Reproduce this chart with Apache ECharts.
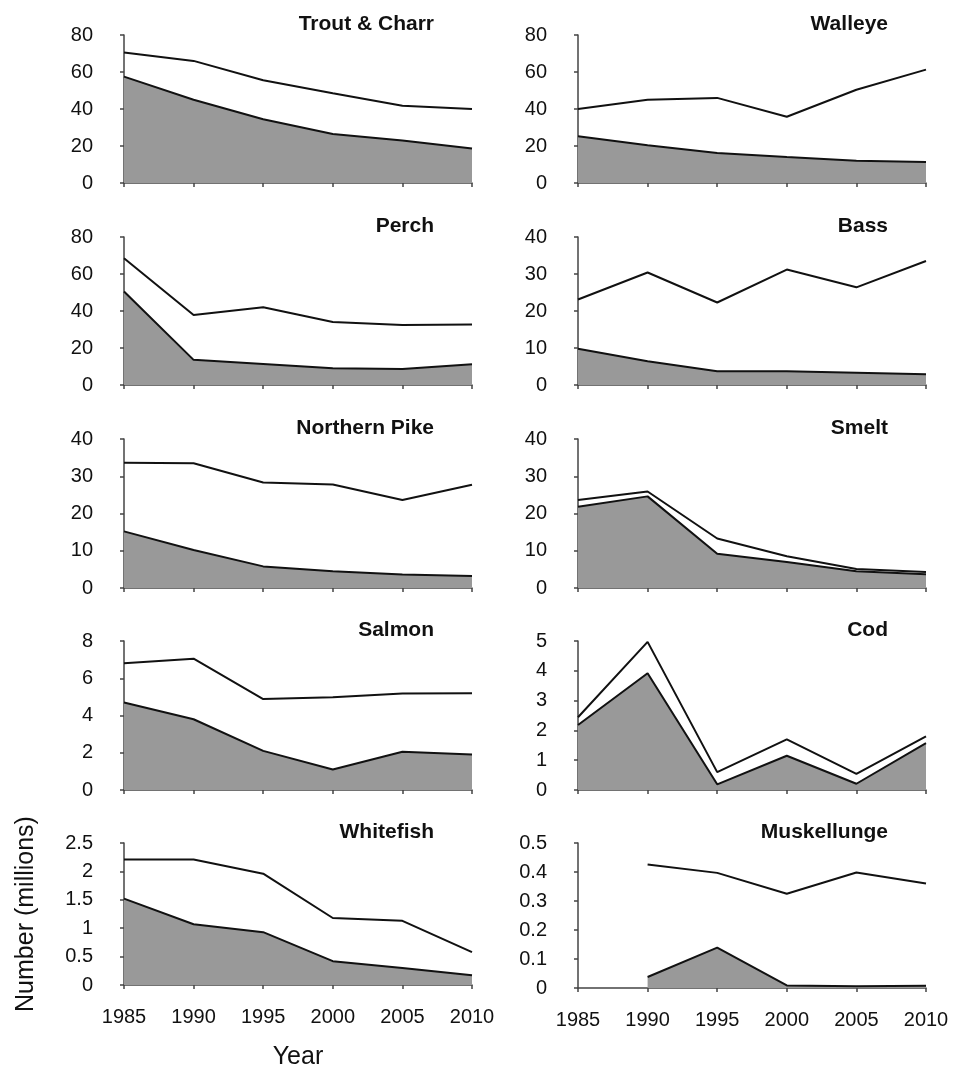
<!DOCTYPE html>
<html>
<head>
<meta charset="utf-8">
<script src="https://cdn.jsdelivr.net/npm/echarts@6/dist/echarts.min.js"></script>
<style>
  html, body { margin: 0; padding: 0; background: #fff; }
  #chart { width: 954px; height: 1071px; }
</style>
</head>
<body>
<div id="chart"></div>
<script>
const years = ['1985', '1990', '1995', '2000', '2005', '2010']

// upper line = total, lower = shaded portion (millions)
const troutUpper = [70.5, 66, 55.5, 48.5, 41.8, 40]
const troutLower = [57.5, 45, 34.5, 26.5, 23, 18.7]
const walleyeUpper = [40, 45, 46, 35.8, 50.4, 61.3]
const walleyeLower = [25.3, 20.4, 16.2, 14, 12, 11.3]
const perchUpper = [68.5, 37.8, 42, 34, 32.4, 32.7]
const perchLower = [50.5, 13.6, 11.3, 9.1, 8.7, 11.2]
const bassUpper = [23.1, 30.4, 22.3, 31.2, 26.4, 33.5]
const bassLower = [9.8, 6.4, 3.7, 3.7, 3.3, 2.9]
const pikeUpper = [33.6, 33.5, 28.3, 27.8, 23.6, 27.7]
const pikeLower = [15.2, 10.2, 5.8, 4.5, 3.6, 3.2]
const smeltUpper = [23.6, 25.9, 13.3, 8.5, 5.1, 4.3]
const smeltLower = [21.8, 24.6, 9.2, 7, 4.5, 3.7]
const salmonUpper = [6.8, 7.05, 4.88, 4.98, 5.18, 5.2]
const salmonLower = [4.7, 3.8, 2.1, 1.1, 2.05, 1.9]
const codUpper = [2.44, 4.97, 0.6, 1.7, 0.54, 1.8]
const codLower = [2.18, 3.92, 0.19, 1.15, 0.21, 1.57]
const whitefishUpper = [2.21, 2.21, 1.96, 1.18, 1.13, 0.58]
const whitefishLower = [1.52, 1.07, 0.93, 0.42, 0.3, 0.17]
const muskyUpper = [null, 0.426, 0.397, 0.325, 0.398, 0.36]
const muskyLower = [null, 0.038, 0.139, 0.009, 0.006, 0.008]

const panelNames = ['Trout & Charr', 'Walleye', 'Perch', 'Bass', 'Northern Pike',
  'Smelt', 'Salmon', 'Cod', 'Whitefish', 'Muskellunge']
const panelUpper = [troutUpper, walleyeUpper, perchUpper, bassUpper, pikeUpper,
  smeltUpper, salmonUpper, codUpper, whitefishUpper, muskyUpper]
const panelLower = [troutLower, walleyeLower, perchLower, bassLower, pikeLower,
  smeltLower, salmonLower, codLower, whitefishLower, muskyLower]
const yMax = [80, 80, 80, 40, 40, 40, 8, 5, 2.5, 0.5]
const yStep = [20, 20, 20, 10, 10, 10, 2, 1, 0.5, 0.1]

const FONT = '"Liberation Sans", Arial, sans-serif'
const colLeft = [124, 578]
const colWidth = 348
const rowTop = [35, 237, 439, 641, 843]
const rowHeight = [148, 148, 149, 149, 145]

const chart = echarts.init(document.getElementById('chart'))

const grid = [], xAxis = [], yAxis = [], series = [], title = []

panelNames.forEach((name, i) => {
  const row = Math.floor(i / 2)
  const col = i % 2
  const bottomRow = row === 4

  grid.push({
    left: colLeft[col],
    top: rowTop[row],
    width: colWidth,
    height: rowHeight[row],
    containLabel: false,
  })

  title.push({
    text: name,
    right: col === 0 ? 520 : 66,
    top: rowTop[row] - 21,
    padding: 0,
    textStyle: { fontFamily: FONT, fontSize: 21, fontWeight: 'bold', color: '#111' },
  })

  xAxis.push({
    gridIndex: i,
    type: 'category',
    data: years,
    boundaryGap: false,
    axisLine: { lineStyle: { color: '#444', width: 1.5 } },
    axisTick: { show: true, length: 4, lineStyle: { color: '#444', width: 1.5 } },
    axisLabel: {
      show: bottomRow,
      margin: 22,
      fontFamily: FONT,
      fontSize: 20,
      color: '#111',
    },
    splitLine: { show: false },
    name: i === 8 ? 'Year' : '',
    nameLocation: 'middle',
    nameGap: 60,
    nameTextStyle: { fontFamily: FONT, fontSize: 25, color: '#111' },
  })

  yAxis.push({
    gridIndex: i,
    type: 'value',
    min: 0,
    max: yMax[i],
    interval: yStep[i],
    axisLine: { show: true, lineStyle: { color: '#444', width: 1.5 } },
    axisTick: { show: true, length: 4, lineStyle: { color: '#444', width: 1.5 } },
    axisLabel: {
      margin: 31,
      fontFamily: FONT,
      fontSize: 20,
      color: '#111',
    },
    splitLine: { show: false },
    name: i === 8 ? 'Number (millions)' : '',
    nameLocation: 'middle',
    nameGap: 85,
    nameTextStyle: { fontFamily: FONT, fontSize: 25, color: '#111' },
  })

  series.push({
    type: 'line',
    xAxisIndex: i,
    yAxisIndex: i,
    data: panelLower[i],
    showSymbol: false,
    connectNulls: false,
    lineStyle: { color: '#111', width: 2 },
    areaStyle: { color: '#999999', opacity: 1 },
    silent: true,
    z: 2,
  })
  series.push({
    type: 'line',
    xAxisIndex: i,
    yAxisIndex: i,
    data: panelUpper[i],
    showSymbol: false,
    connectNulls: false,
    lineStyle: { color: '#111', width: 2 },
    silent: true,
    z: 3,
  })
})

chart.setOption({
  animation: false,
  backgroundColor: '#fff',
  title,
  grid,
  xAxis,
  yAxis,
  series,
})
</script>
</body>
</html>
